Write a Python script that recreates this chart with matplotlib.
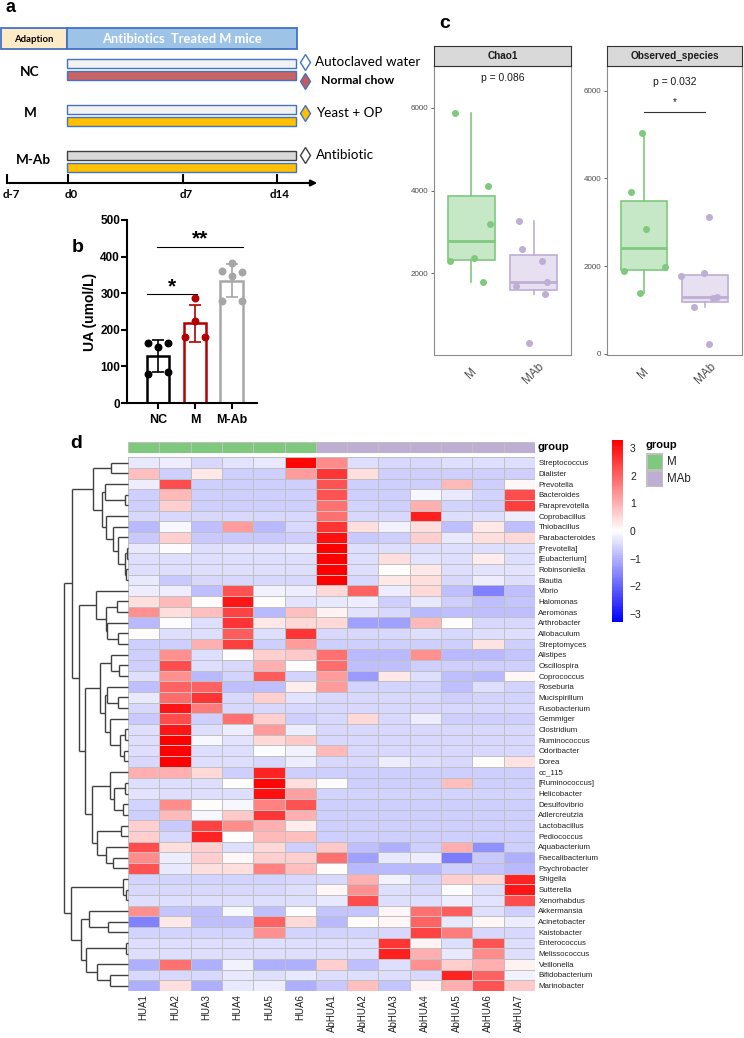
import numpy as np
import matplotlib.pyplot as plt
from matplotlib.patches import Rectangle
from matplotlib.colors import LinearSegmentedColormap, ListedColormap

plt.rcParams['font.family'] = ['Liberation Sans', 'DejaVu Sans']

W, H = 744, 1038

# ---------------- data ----------------
# panel b: serum uric acid
b_groups = ["NC", "M", "M-Ab"]
b_colors = ["black", "#B30000", "#A6A6A6"]
b_points = [[164, 164, 153, 80, 84],
            [287, 225, 180, 180],
            [382, 360, 358, 348, 280, 278]]
b_jitter = [[-0.27, 0.27, 0, -0.27, 0.27],
            [0, 0, -0.27, 0.27],
            [0, -0.27, 0.27, 0, -0.27, 0.27]]

# panel c: alpha diversity
c_groups = ["M", "MAb"]
chao1_m = [5880, 4100, 3200, 2380, 2300, 1790]
chao1_mab = [3270, 2595, 2300, 1790, 1700, 1500, 315]
obs_m = [5030, 3690, 2850, 1975, 1900, 1390]
obs_mab = [3110, 1835, 1767, 1300, 1280, 1080, 235]
chao1_jit = [[-0.26, 0.27, 0.30, 0.05, -0.35, 0.19],
             [-0.24, -0.19, 0.13, 0.22, -0.29, 0.19, -0.08]]
obs_jit = [[-0.03, -0.21, 0.03, 0.34, -0.32, -0.06],
           [0.06, -0.02, -0.39, 0.19, 0.12, -0.18, 0.07]]

# panel d: heatmap
genera = ["Streptococcus", "Dialister", "Prevotella", "Bacteroides", "Paraprevotella",
          "Coprobacillus", "Thiobacillus", "Parabacteroides", "[Prevotella]", "[Eubacterium]",
          "Robinsoniella", "Blautia", "Vibrio", "Halomonas", "Aeromonas", "Arthrobacter",
          "Allobaculum", "Streptomyces", "Alistipes", "Oscillospira", "Coprococcus",
          "Roseburia", "Mucispirillum", "Fusobacterium", "Gemmiger", "Clostridium",
          "Ruminococcus", "Odoribacter", "Dorea", "cc_115", "[Ruminococcus]", "Helicobacter",
          "Desulfovibrio", "Adlercreutzia", "Lactobacillus", "Pediococcus", "Aquabacterium",
          "Faecalibacterium", "Psychrobacter", "Shigella", "Sutterella", "Xenorhabdus",
          "Akkermansia", "Acinetobacter", "Kaistobacter", "Enterococcus", "Melissococcus",
          "Veillonella", "Bifidobacterium", "Marinobacter"]
samples = ["HUA1", "HUA2", "HUA3", "HUA4", "HUA5", "HUA6",
           "AbHUA1", "AbHUA2", "AbHUA3", "AbHUA4", "AbHUA5", "AbHUA6", "AbHUA7"]
sample_group = [0] * 6 + [1] * 7
group_names = ["M", "MAb"]
group_colors = ["#7FC97F", "#BEAED4"]

zscore = np.array([
    [-0.3, -0.2, -0.5, -0.35, -0.3, 3.2, 1.5, -0.4, -0.5, -0.5, -0.45, -0.45, -0.4],
    [0.8, -0.6, 0.3, -0.6, -0.6, 1.3, 2.6, 0.4, -0.6, -0.6, -0.6, -0.6, -0.6],
    [-0.25, 2.3, -0.6, -0.6, -0.6, -0.6, 2.2, -0.6, -0.6, -0.65, 0.9, -0.6, 0.1],
    [-0.6, 0.9, -0.6, -0.6, -0.6, -0.6, 2.2, -0.6, -0.65, -0.1, -0.3, -0.55, 2.3],
    [-0.6, 0.6, -0.6, -0.6, -0.6, -0.6, 1.8, -0.55, -0.6, 1.0, -0.55, -0.6, 2.5],
    [-0.5, -0.5, -0.5, -0.5, -0.5, -0.5, 1.8, -0.5, -0.5, 2.9, -0.45, -0.45, -0.2],
    [-0.9, -0.1, -0.8, 1.3, -0.9, -0.5, 2.6, 0.4, -0.15, 0.4, -0.8, 0.3, -0.8],
    [-0.7, 0.6, -0.7, -0.7, -0.7, -0.6, 3.1, -0.7, -0.6, 0.6, -0.3, 0.4, 0.5],
    [-0.3, -0.05, -0.4, -0.35, -0.35, -0.3, 3.3, -0.4, -0.4, -0.4, -0.4, -0.4, -0.4],
    [-0.45, -0.45, -0.45, -0.45, -0.45, -0.45, 3.3, -0.45, 0.4, -0.35, -0.45, 0.2, -0.45],
    [-0.45, -0.4, -0.45, -0.45, -0.45, -0.45, 3.3, -0.45, 0.0, 0.3, -0.4, -0.35, -0.35],
    [-0.3, -0.7, -0.5, -0.5, -0.5, -0.5, 3.3, -0.5, 0.3, 0.4, -0.5, -0.2, -0.45],
    [-0.2, -0.25, -0.8, 2.2, -0.15, -0.2, 0.5, 2.0, -0.2, 0.5, -0.8, -1.6, -0.8],
    [0.4, 0.9, 0.0, 3.0, 0.0, -0.35, -0.3, -0.25, -0.6, -0.3, -0.65, -0.8, -0.75],
    [1.4, 0.45, 0.8, 2.4, -0.9, 0.8, 0.15, -0.35, -0.5, -0.9, -0.85, -0.85, -0.8],
    [-0.9, -0.05, -0.4, 2.6, 0.3, 0.5, 0.5, -1.2, -1.2, 0.9, 0.0, -0.5, -0.5],
    [0.0, -0.45, -0.45, 2.1, -0.4, 2.6, -0.5, -0.5, -0.5, -0.45, -0.5, -0.45, -0.45],
    [-0.6, -0.6, 1.0, 2.5, -0.6, 1.3, -0.6, -0.6, -0.6, -0.6, -0.6, 0.35, -0.6],
    [-0.6, 1.4, -0.45, -0.05, 0.6, 0.7, 1.8, -0.9, -0.9, 1.4, -0.9, -0.9, -0.75],
    [-0.6, 2.3, -0.45, -0.5, 1.0, -0.05, 1.9, -0.8, -0.8, -0.6, -0.6, -0.6, -0.6],
    [-0.45, 1.4, -0.9, -0.55, 2.1, -0.55, 1.3, -1.3, 0.3, -0.45, -0.85, -0.9, 0.1],
    [-0.8, 2.0, 2.0, -0.8, -0.8, 0.25, 1.3, -0.55, -0.55, -0.55, -0.8, -0.45, -0.55],
    [-0.3, 1.9, 2.6, -0.5, 0.6, -0.35, -0.5, -0.5, -0.5, -0.5, -0.6, -0.55, -0.55],
    [-0.5, 3.0, 1.7, -0.5, -0.5, -0.5, -0.5, -0.5, -0.5, -0.5, -0.5, -0.5, -0.5],
    [-0.7, 2.3, -0.6, 1.8, 0.6, -0.6, -0.5, 0.5, -0.5, -0.2, -0.6, -0.6, -0.6],
    [-0.45, 3.0, -0.45, -0.25, 1.3, -0.2, -0.5, -0.5, -0.5, -0.5, -0.5, -0.5, -0.5],
    [-0.45, 3.3, -0.1, -0.35, 0.5, 0.7, -0.5, -0.5, -0.5, -0.5, -0.5, -0.5, -0.5],
    [-0.45, 3.3, -0.45, -0.45, -0.05, -0.15, 0.9, -0.5, -0.5, -0.5, -0.5, -0.5, -0.5],
    [-0.5, 3.3, -0.45, -0.45, -0.5, -0.2, -0.5, -0.5, -0.2, -0.45, -0.5, 0.0, 0.35],
    [1.0, 1.0, 0.5, -0.6, 2.8, -0.6, -0.6, -0.6, -0.6, -0.6, -0.6, -0.6, -0.6],
    [-0.45, -0.4, -0.45, 0.0, 3.2, 0.4, -0.05, -0.6, -0.6, -0.6, 0.8, -0.6, -0.6],
    [-0.35, -0.45, -0.45, -0.45, 3.1, 1.2, -0.55, -0.55, -0.55, -0.55, -0.55, -0.55, -0.55],
    [-0.55, 1.5, 0.05, -0.1, 1.6, 2.2, -0.6, -0.6, -0.6, -0.6, -0.6, -0.6, -0.6],
    [-0.6, 0.9, -0.1, 0.7, 2.6, 1.0, -0.6, -0.6, -0.6, -0.6, -0.6, -0.6, -0.6],
    [0.6, -0.7, 2.4, 1.5, 1.0, 0.25, -0.65, -0.65, -0.65, -0.65, -0.65, -0.65, -0.65],
    [0.6, -0.5, 2.8, 0.0, 0.9, 0.8, -0.65, -0.65, -0.65, -0.65, -0.65, -0.65, -0.65],
    [2.3, 0.4, 0.6, -0.45, 0.5, -0.65, 0.7, -0.85, -1.0, -0.6, 1.0, -1.4, -0.6],
    [1.5, -0.25, 0.6, 0.1, 0.6, 0.6, 1.8, -1.2, -0.3, -0.2, -1.7, -0.7, -1.0],
    [2.2, -0.3, 0.4, 0.4, 1.6, 0.8, 0.05, -0.9, -0.9, -0.9, -0.6, -0.75, -0.9],
    [-0.55, -0.55, -0.55, -0.55, -0.55, -0.5, -0.5, 1.0, -0.15, -0.55, 0.6, 0.5, 2.8],
    [-0.5, -0.5, -0.5, -0.5, -0.5, -0.4, 0.1, 1.4, -0.45, -0.5, -0.05, -0.45, 3.0],
    [-0.45, -0.45, -0.45, -0.45, -0.45, -0.45, -0.3, 2.3, -0.4, -0.45, -0.25, -0.35, 2.3],
    [1.4, -0.75, -0.8, -0.1, -0.8, -0.05, -0.75, -0.75, 0.1, 1.8, 2.1, -0.45, -0.65],
    [-1.6, 0.3, -0.8, -0.85, 2.0, 0.5, -0.9, 0.05, 0.1, 2.0, -0.3, 0.1, -0.2],
    [-0.55, -0.55, -0.55, -0.55, 1.4, -0.55, -0.55, -0.55, -0.5, 2.4, 1.7, -0.5, -0.5],
    [-0.45, -0.45, -0.45, -0.45, -0.45, -0.45, -0.45, -0.45, 2.6, 0.15, -0.45, 2.2, -0.45],
    [-0.45, -0.45, -0.45, -0.45, -0.45, -0.45, -0.45, -0.45, 2.9, 1.0, -0.3, 1.5, -0.45],
    [-1.0, 1.8, -1.0, -0.15, -1.0, -1.0, 0.6, -0.85, -0.4, 1.4, 0.6, 1.0, 0.15],
    [-0.5, -0.5, -0.5, -0.3, -0.45, -0.3, -0.45, -0.45, -0.45, -0.5, 2.8, 2.0, -0.15],
    [-1.0, 0.4, -1.0, -0.3, -0.25, -1.0, -0.7, 0.8, -0.75, 0.15, 1.0, 2.2, 0.7],
])

# row dendrogram: (height, left, right), leaves are row indices
top = (34.7, (17, 0, 1),
       (26.3, (23, 2, (3, 3, 4)),
        (21.5, 5, (14.7, 6, (9.7, 7, (2.5, (1.0, 8, 9), (1.5, 10, 11)))))))
mid = (32.3, 12, (22, (10.7, 13, 14), (20.7, 15, (9.7, 16, 17))))
q = (28, (17, 18, (8.7, 19, 20)),
     (23, (21, 21, (9.7, 22, 23)), (18, 24, (8, (3, 25, 26), (4, 27, 28)))))
r = (36, (18, 29, (14, (3, 30, 31), (4.7, 32, 33))),
     (30.7, (7.3, 34, 35), (22, 36, (14.7, 37, 38))))
bot = (57, (4.7, 39, (2, 40, 41)),
       (47, (38.7, 42, (19.7, 43, 44)),
        (42, (2, 45, 46), (30.7, 47, (18, 48, 49)))))
tree = (63.7, (55.3, top, (49, mid, (43, q, r))), bot)


def px_axes(x0, y0, x1, y1):
    return fig.add_axes([x0 / W, 1 - y1 / H, (x1 - x0) / W, (y1 - y0) / H])


def ftext(x, y, s, **kw):
    fig.text(x / W, 1 - y / H, s, **kw)


fig = plt.figure(figsize=(W / 100, H / 100), dpi=100)

# ---------------- panel a (schematic) ----------------
axa = px_axes(0, 0, 340, 205)
axa.set_xlim(0, 340)
axa.set_ylim(205, 0)
axa.axis('off')
blue_edge = "#4472C4"
axa.add_patch(Rectangle((1, 28), 66, 21, fc="#FDEBC8", ec=blue_edge, lw=1.3))
axa.add_patch(Rectangle((67, 28), 230, 21, fc="#9DC3E6", ec=blue_edge, lw=1.3))
axa.text(34, 39, "Adaption", ha='center', va='center', fontsize=6.8,
         fontweight='bold', family='Lato')
axa.text(182, 39, "Antibiotics  Treated M mice", ha='center', va='center',
         fontsize=9.3, fontweight='bold', color='white', family='Lato')

schema = [("NC", 72, [(59, "#F2F2F2", blue_edge), (71, "#C96464", blue_edge)]),
          ("M", 113, [(105, "#F2F2F2", blue_edge), (117, "#FFC000", blue_edge)]),
          ("M-Ab", 160, [(151, "#D9D9D9", "#404040"), (163, "#FFC000", blue_edge)])]
for lab, ly, bars in schema:
    axa.text(30 if lab != "M-Ab" else 33, ly, lab, ha='center', va='center',
             fontsize=9.8, fontweight='bold', family='Lato')
    for y0, fc, ec in bars:
        axa.add_patch(Rectangle((67, y0), 229, 9, fc=fc, ec=ec, lw=1.0))

legend_a = [(62, "white", blue_edge, "Autoclaved water", 315, 'normal'),
            (81, "#C55A5A", blue_edge, "Normal chow", 321, 'bold'),
            (113, "#FFC000", blue_edge, "Yeast + OP", 316, 'normal'),
            (155, "white", "#404040", "Antibiotic", 316, 'normal')]
for y, fc, ec, s, tx, fw in legend_a:
    axa.plot(305, y, marker='d', ms=8, mfc=fc, mec=ec, mew=1.0, clip_on=False)
    axa.text(tx, y, s, va='center', fontsize=9.7 if fw == 'normal' else 8.8,
             fontweight=fw, family='Lato', clip_on=False)

axa.annotate('', xy=(320, 183), xytext=(6, 183),
             arrowprops=dict(arrowstyle='-|>', lw=1.5, color='black', mutation_scale=9))
for tx, s in [(7, "d-7"), (68, "d0"), (183, "d7"), (277, "d14")]:
    axa.plot([tx, tx], [175, 183], color='black', lw=1.5)
    axa.text(tx + 4 if tx == 7 else tx + 3, 194, s, ha='center', va='center',
             fontsize=8.3, fontweight='bold', family='Lato')

ftext(10, 7, "a", fontsize=13, fontweight='bold', ha='center', va='center')

# ---------------- panel b ----------------
axb = px_axes(127, 220, 257, 403)
xb = np.arange(len(b_groups))
for i, pts in enumerate(b_points):
    pts = np.array(pts)
    m, sd = pts.mean(), pts.std(ddof=1)
    axb.bar(xb[i], m, width=0.62, color='white', edgecolor=b_colors[i], lw=1.8, zorder=2)
    axb.errorbar(xb[i], m, yerr=sd, fmt='none', ecolor=b_colors[i], elinewidth=1.2,
                 capsize=4, capthick=1.2, zorder=3)
    axb.scatter(xb[i] + np.array(b_jitter[i]), pts, s=22, color=b_colors[i], zorder=4,
                clip_on=False)
axb.set_xlim(-0.84, 2.68)
axb.set_ylim(0, 500)
axb.set_yticks([0, 100, 200, 300, 400, 500])
axb.set_xticks(xb)
axb.set_xticklabels(b_groups, fontweight='bold', fontsize=9)
for lab in axb.get_yticklabels():
    lab.set_fontweight('bold')
axb.tick_params(axis='y', labelsize=8.5, width=1.5, length=4, pad=1)
axb.tick_params(axis='x', width=1.5, length=4, pad=4)
for sp in ['top', 'right']:
    axb.spines[sp].set_visible(False)
for sp in ['left', 'bottom']:
    axb.spines[sp].set_linewidth(1.5)
axb.set_ylabel("UA (umol/L)", fontweight='bold', fontsize=10, labelpad=2)
axb.plot([-0.3, 1.05], [298, 298], color='black', lw=0.8, clip_on=False)
axb.text(0.38, 318, "*", ha='center', va='center', fontsize=15, fontweight='bold')
axb.plot([-0.03, 2.3], [425, 425], color='black', lw=0.8, clip_on=False)
axb.text(1.14, 448, "**", ha='center', va='center', fontsize=15, fontweight='bold')
ftext(78, 247, "b", fontsize=14, fontweight='bold', ha='center', va='center')

# ---------------- panel c ----------------
title_p = {"Chao1": "0.086", "Observed_species": "0.032"}


def diversity_panel(x0, x1, title, m_vals, mab_vals, jit, ylim, yticks, ptxt, sig=None):
    ax = px_axes(x0, 66, x1, 355)
    strip = px_axes(x0, 46, x1, 66)
    strip.set_xticks([])
    strip.set_yticks([])
    strip.set_facecolor("#D9D9D9")
    for sp in strip.spines.values():
        sp.set_color("#333333")
        sp.set_linewidth(0.8)
    strip.text(0.5, 0.5, title, ha='center', va='center', fontsize=7.2,
               fontweight='bold', color='#1A1A1A', transform=strip.transAxes)
    data = [m_vals, mab_vals]
    bp = ax.boxplot(data, positions=[1, 2], widths=0.75, whis=1.5, showfliers=False,
                    showcaps=False, patch_artist=True)
    fills = ["#C7E8C7", "#E7E0F1"]
    for k in range(2):
        bp['boxes'][k].set_facecolor(fills[k])
        bp['boxes'][k].set_edgecolor(group_colors[k])
        bp['boxes'][k].set_linewidth(1.2)
        bp['medians'][k].set_color(group_colors[k])
        bp['medians'][k].set_linewidth(2.0)
        for w in bp['whiskers'][2 * k:2 * k + 2]:
            w.set_color(group_colors[k])
            w.set_linewidth(1.2)
        ax.scatter(k + 1 + np.array(jit[k]), data[k], s=16, color=group_colors[k], zorder=3)
    ax.set_xlim(0.4, 2.6)
    ax.set_ylim(*ylim)
    ax.set_yticks(yticks)
    ax.set_xticks([1, 2])
    ax.set_xticklabels(c_groups, rotation=45, ha='center', va='center', fontsize=8.5,
                       color='#4D4D4D')
    ax.tick_params(axis='x', length=0, pad=13)
    ax.tick_params(axis='y', length=2.5, width=0.6, color='#4D4D4D', labelsize=5.8,
                   labelcolor='#4D4D4D', pad=1.5)
    for sp in ax.spines.values():
        sp.set_color('#8C8C8C')
        sp.set_linewidth(0.8)
    ax.text(1.5, ptxt, "p = " + title_p[title], ha='center', va='center', fontsize=7.5,
            color='#1A1A1A')
    if sig is not None:
        ax.plot([1, 2], [sig, sig], color='#333333', lw=0.8)
        ax.text(1.5, sig + 220, "*", ha='center', va='center', fontsize=7, color='#1A1A1A')
    return ax


diversity_panel(434, 571, "Chao1", chao1_m, chao1_mab, chao1_jit, (24, 7013),
                [2000, 4000, 6000], 6723)
diversity_panel(607, 742, "Observed_species", obs_m, obs_mab, obs_jit, (-23, 6560),
                [0, 2000, 4000, 6000], 6194, sig=5509)
ftext(445, 24, "c", fontsize=14, fontweight='bold', ha='center', va='center')

# ---------------- panel d (heatmap) ----------------
n_rows, n_cols = zscore.shape
hm_top, hm_bot = 457.4, 990.9
cmap = LinearSegmentedColormap.from_list("bwr_ph", ["blue", "white", "red"], N=100)

axh = px_axes(128, hm_top, 535, hm_bot)
mesh = axh.pcolormesh(np.arange(n_cols + 1), np.arange(n_rows + 1), zscore, cmap=cmap,
                      vmin=-3.3, vmax=3.3, edgecolors='#C0C0C0', linewidth=0.6)
axh.set_xlim(0, n_cols)
axh.set_ylim(n_rows, 0)
for sp in axh.spines.values():
    sp.set_visible(False)
axh.yaxis.tick_right()
axh.set_yticks(np.arange(n_rows) + 0.5)
axh.set_yticklabels(genera, fontsize=5.7, color='#222222')
axh.set_xticks(np.arange(n_cols) + 0.5)
axh.set_xticklabels(samples, rotation=90, fontsize=7, color='#222222')
axh.tick_params(length=0, pad=2.5)

# annotation bar
axg = px_axes(128, 441.7, 535, 453.3)
axg.pcolormesh(np.arange(n_cols + 1), [0, 1], np.array([sample_group]),
               cmap=ListedColormap(group_colors), vmin=0, vmax=1,
               edgecolors='#C0C0C0', linewidth=0.6)
axg.set_xlim(0, n_cols)
axg.axis('off')
ftext(538, 447.5, "group", fontsize=8, fontweight='bold', va='center')

# dendrogram
axd = px_axes(64, hm_top, 128, hm_bot)
axd.set_xlim(tree[0], 0)
axd.set_ylim(n_rows, 0)
axd.axis('off')


def draw_node(node):
    if isinstance(node, int):
        return node + 0.5, 0.0
    h, left, right = node
    yl, hl = draw_node(left)
    yr, hr = draw_node(right)
    kw = dict(color='#404040', lw=1.0, clip_on=False, solid_capstyle='butt')
    axd.plot([hl, h], [yl, yl], **kw)
    axd.plot([hr, h], [yr, yr], **kw)
    axd.plot([h, h], [yl, yr], **kw)
    return (yl + yr) / 2, h


draw_node(tree)

# colour key
cax = px_axes(612, 440, 623, 622)
cb = fig.colorbar(mesh, cax=cax)
cb.set_ticks([-3, -2, -1, 0, 1, 2, 3])
cb.outline.set_visible(False)
cax.tick_params(length=0, labelsize=7.5, pad=5, labelcolor='#222222')

# group legend
axl = px_axes(646, 453, 663, 487)
axl.pcolormesh([0, 1], [0, 1, 2], np.array([[0], [1]]), cmap=ListedColormap(group_colors),
               vmin=0, vmax=1, edgecolors='#C0C0C0', linewidth=0.8)
axl.set_ylim(2, 0)
axl.axis('off')
ftext(646, 445, "group", fontsize=8, fontweight='bold', va='center')
for k, name in enumerate(group_names):
    ftext(667, 462 + 17.5 * k, name, fontsize=8.3, va='center', color='#222222')

ftext(76, 443, "d", fontsize=14, fontweight='bold', ha='center', va='center')

fig.savefig("out.png", dpi=100)
